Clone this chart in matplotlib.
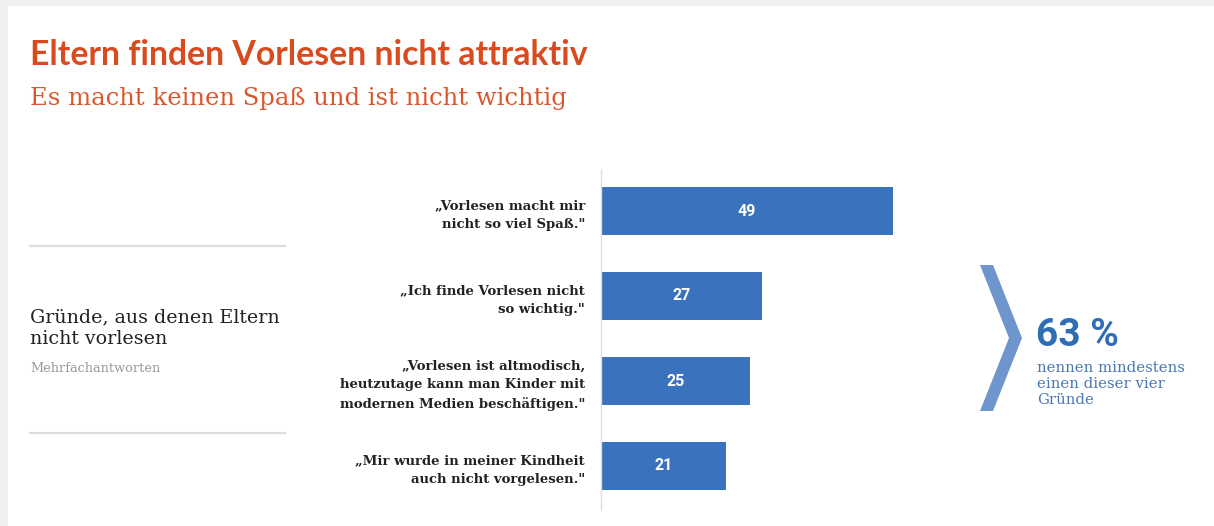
import matplotlib
matplotlib.use("Agg")
import matplotlib.pyplot as plt
from matplotlib.patches import Rectangle, Polygon

W, H = 1214, 526
DPI = 100

categories = [
    "\u201eVorlesen macht mir\nnicht so viel Spa\u00df.\"",
    "\u201eIch finde Vorlesen nicht\nso wichtig.\"",
    "\u201eVorlesen ist altmodisch,\nheutzutage kann man Kinder mit\nmodernen Medien besch\u00e4ftigen.\"",
    "\u201eMir wurde in meiner Kindheit\nauch nicht vorgelesen.\"",
]
values = [49, 27, 25, 21]

title = "Eltern finden Vorlesen nicht attraktiv"
subtitle = "Es macht keinen Spa\u00df und ist nicht wichtig"
side_title = "Gr\u00fcnde, aus denen Eltern\nnicht vorlesen"
side_note = "Mehrfachantworten"
summary_value = "63 %"
summary_text = "nennen mindestens\neinen dieser vier\nGr\u00fcnde"

BAR = "#3a72bd"
ORANGE = "#d94a1f"
SUMBLUE = "#2f6db5"

fig = plt.figure(figsize=(W / DPI, H / DPI), dpi=DPI, facecolor="#efefef")

def fx(x):
    return x / W

def fy(y):
    return 1 - y / H

# white page
fig.patches.append(Rectangle((fx(8), 0), 1, fy(6), transform=fig.transFigure,
                             facecolor="white", edgecolor="none", zorder=-5))

# bar axes
x0, x1 = 601, 601 + 60 * (292 / 49)
y_top, y_bot = 170, 510
ax = fig.add_axes([fx(x0), fy(y_bot), fx(x1) - fx(x0), (y_bot - y_top) / H], zorder=2)
ax.set_facecolor("none")
pos = list(range(len(values)))
bars = ax.barh(pos, values, height=48 / 85, color=BAR, zorder=2)
ax.set_xlim(0, 60)
ax.set_ylim(3 + 44 / 85, -41 / 85)
for b, v in zip(bars, values):
    ax.text(v / 2, b.get_y() + b.get_height() / 2, str(v), ha="center", va="center",
            color="white", fontsize=11.5, fontweight="bold", family="Roboto")
ax.set_yticks(pos)
ax.set_yticklabels(categories, family="DejaVu Serif", fontweight="bold",
                   fontsize=9.5, color="#222222", linespacing=1.55)
for lab in ax.get_yticklabels():
    lab.set_multialignment("right")
ax.tick_params(axis="y", length=0, pad=11.5)
ax.set_xticks([])
for s in ["top", "right", "bottom"]:
    ax.spines[s].set_visible(False)
ax.spines["left"].set_color("#dddddd")
ax.spines["left"].set_linewidth(1)

# titles
fig.text(fx(30), fy(55), title, color=ORANGE, fontsize=24.3, fontweight="bold",
         family="Lato", va="center", ha="left")
fig.text(fx(30), fy(99), subtitle, color="#d9572e", fontsize=17.5,
         family="DejaVu Serif", va="center", ha="left")

# side panel
for yy in (246, 433):
    fig.add_artist(plt.Line2D([fx(30), fx(285)], [fy(yy), fy(yy)], color="#dddddd",
                              lw=1.6, transform=fig.transFigure))
fig.text(fx(30), fy(328), side_title, color="#222222", fontsize=13.7,
         family="DejaVu Serif", va="center", ha="left", linespacing=1.3)
fig.text(fx(30), fy(369), side_note, color="#999999", fontsize=9.3,
         family="DejaVu Serif", va="center", ha="left")

# chevron
chev = [(980, 265), (993, 265), (1022, 338), (993, 411), (980, 411), (1009, 338)]
fig.patches.append(Polygon([(fx(a), fy(b)) for a, b in chev], closed=True,
                           transform=fig.transFigure, facecolor="#6f96cc", edgecolor="none"))
fig.text(fx(1036), fy(336), summary_value, color=SUMBLUE, fontsize=28, fontweight="bold",
         family="Roboto", va="center", ha="left")
fig.text(fx(1037), fy(384), summary_text, color="#4a77b8", fontsize=10.7,
         family="DejaVu Serif", va="center", ha="left", linespacing=1.15)

fig.savefig("out.png", dpi=DPI, facecolor=fig.get_facecolor())
